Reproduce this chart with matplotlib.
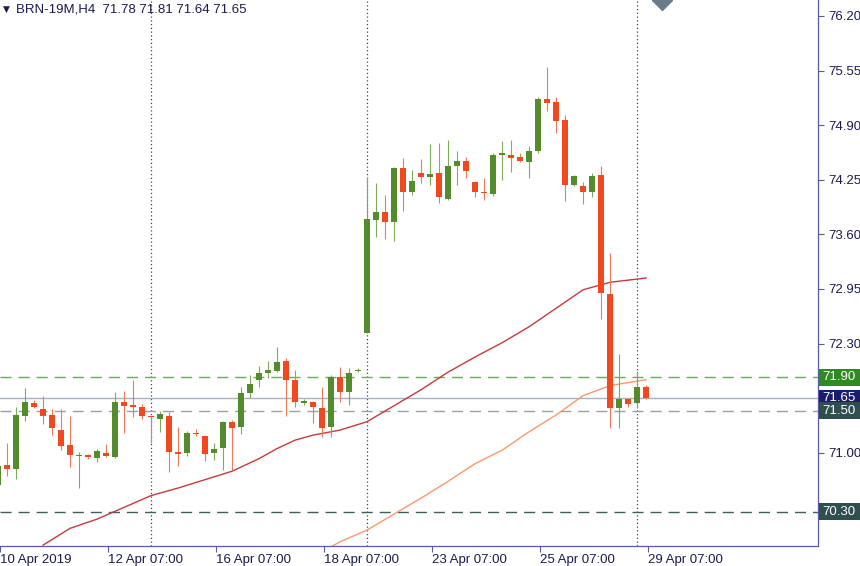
import numpy as np
import matplotlib.pyplot as plt
from matplotlib.patches import Rectangle

# BRN-19M, H4 candles
opens = [70.62, 70.85, 70.81, 71.44, 71.59, 71.52, 71.45, 71.27, 71.09, 70.96,
         70.97, 70.94, 71.00, 70.95, 71.60, 71.56, 71.55, 71.43, 71.40, 71.44,
         71.01, 71.00, 71.24, 71.20, 71.00, 71.06, 71.37, 71.31, 71.71, 71.87,
         71.95, 71.97, 72.09, 71.87, 71.59, 71.60, 71.53, 71.31, 71.90, 71.72,
         71.97, 72.43, 73.77, 73.87, 73.75, 74.39, 74.10, 74.33, 74.28, 74.33,
         74.02, 74.41, 74.47, 74.22, 74.10, 74.08, 74.55, 74.55, 74.52, 74.46,
         74.59, 75.21, 75.18, 74.96, 74.19, 74.18, 74.10, 74.31, 72.89, 71.53,
         71.64, 71.59, 71.78]
highs = [70.89, 71.12, 71.55, 71.77, 71.63, 71.68, 71.52, 71.52, 71.44, 71.01,
         70.99, 71.05, 71.10, 71.72, 71.74, 71.87, 71.58, 71.44, 71.50, 71.49,
         71.31, 71.26, 71.28, 71.21, 71.12, 71.38, 71.39, 71.78, 71.93, 72.03,
         72.09, 72.26, 72.13, 71.99, 71.64, 71.62, 71.78, 71.93, 72.02, 72.01,
         72.01, 74.28, 74.21, 74.07, 74.40, 74.51, 74.37, 74.50, 74.68, 74.69,
         74.72, 74.59, 74.52, 74.24, 74.27, 74.57, 74.71, 74.72, 74.57, 74.65,
         75.24, 75.59, 75.24, 75.02, 74.31, 74.22, 74.33, 74.41, 73.38, 72.18,
         71.65, 71.97, 71.81]
lows = [70.58, 70.72, 70.69, 71.38, 71.53, 71.34, 71.21, 71.03, 70.83, 70.58,
        70.93, 70.89, 70.95, 70.94, 71.24, 71.43, 71.40, 71.12, 71.25, 70.77,
        70.84, 70.96, 71.20, 70.90, 70.91, 70.80, 70.80, 71.22, 71.65, 71.78,
        71.89, 71.96, 71.44, 71.55, 71.57, 71.35, 71.19, 71.19, 71.60, 71.57,
        71.96, 72.42, 73.57, 73.55, 73.52, 73.88, 74.07, 74.21, 74.19, 73.97,
        74.01, 74.19, 74.27, 74.05, 74.01, 74.06, 74.25, 74.34, 74.46, 74.27,
        74.57, 75.07, 74.81, 74.00, 74.18, 73.96, 74.05, 72.59, 71.30, 71.30,
        71.55, 71.53, 71.64]
closes = [70.84, 70.81, 71.45, 71.60, 71.55, 71.44, 71.30, 71.08, 70.97, 70.96,
          70.95, 71.02, 70.96, 71.60, 71.56, 71.55, 71.44, 71.42, 71.46, 71.01,
          70.99, 71.24, 71.22, 70.99, 71.05, 71.37, 71.30, 71.71, 71.82, 71.95,
          71.99, 72.08, 71.87, 71.60, 71.62, 71.55, 71.30, 71.90, 71.72, 71.95,
          71.97, 73.78, 73.87, 73.75, 74.39, 74.10, 74.24, 74.28, 74.32, 74.05,
          74.41, 74.47, 74.35, 74.10, 74.09, 74.55, 74.56, 74.51, 74.47, 74.59,
          75.21, 75.16, 74.95, 74.19, 74.30, 74.10, 74.30, 72.90, 71.53, 71.64,
          71.58, 71.78, 71.65]

# moving averages, read at some bars
ma_red_idx = [5, 8, 11, 14, 17, 20, 23, 26, 29, 31, 33, 35, 38, 41, 44, 47,
              50, 53, 56, 59, 62, 65, 68, 72]
ma_red = [69.90, 70.10, 70.21, 70.35, 70.49, 70.58, 70.68, 70.78, 70.93, 71.05,
          71.15, 71.21, 71.27, 71.37, 71.56, 71.75, 71.96, 72.14, 72.31, 72.50,
          72.72, 72.94, 73.03, 73.08]
ma_orange_idx = [37, 38, 41, 44, 47, 50, 53, 56, 59, 62, 65, 68, 72]
ma_orange = [69.88, 69.94, 70.08, 70.27, 70.46, 70.66, 70.87, 71.03, 71.25,
             71.45, 71.68, 71.80, 71.87]

tick_idx = [0, 12, 24, 36, 48, 60, 72]
tick_labels = ['10 Apr 2019', '12 Apr 07:00', '16 Apr 07:00', '18 Apr 07:00',
               '23 Apr 07:00', '25 Apr 07:00', '29 Apr 07:00']
separators = [17, 41, 71]
price_ticks = [76.20, 75.55, 74.90, 74.25, 73.60, 72.95, 72.30, 71.00, 70.35]

levels = [71.90, 71.65, 71.50, 70.30]
level_colors = ['#2f8a22', '#1c1c6c', '#2f4f4f', '#2f4f4f']
level_lines = ['#6aaa60', '#a8b0c4', '#98a2a2', '#3f5f5f']
level_styles = [(0, (8, 5)), '-', (0, (8, 5)), (0, (8, 5))]

plt.rcParams['font.family'] = ['Liberation Sans', 'DejaVu Sans']
txt = '#1a1a50'
axis_col = '#5a5aa0'
up_col, dn_col = '#548c2d', '#f2481f'
up_wick, dn_wick = '#7dab5a', '#f2785a'

fig = plt.figure(figsize=(8.6, 5.66), dpi=100)
ax = fig.add_axes([0, 20 / 566, 818 / 860, 546 / 566])

x = np.arange(len(opens))
o = np.array(opens); h = np.array(highs); l = np.array(lows); c = np.array(closes)
up = c >= o

ax.vlines(x, l, h, colors=np.where(up, up_wick, dn_wick), linewidth=0.8, zorder=3)
body_h = np.maximum(np.abs(c - o), 0.013)
ax.bar(x, body_h, bottom=np.minimum(o, c), width=0.66,
       color=np.where(up, up_col, dn_col), linewidth=0, zorder=4)

ax.plot(ma_red_idx, ma_red, color='#c73a3c', linewidth=1.0, zorder=2)
ax.plot(ma_orange_idx, ma_orange, color='#f89a6c', linewidth=1.0, zorder=2)

for s in separators:
    ax.axvline(s, color='#3c3c80', linewidth=0.9, linestyle=(0, (1, 2)), zorder=1)

ytr = ax.get_yaxis_transform()
for lv, bc, lc, ls in zip(levels, level_colors, level_lines, level_styles):
    ax.axhline(lv, color=lc, linewidth=1.0, linestyle=ls, zorder=1)
    ax.add_patch(Rectangle((1.001, lv - 0.1), 0.052, 0.2, transform=ytr,
                           facecolor=bc, edgecolor='none', clip_on=False, zorder=9))
    ax.text(1.005, lv, f'{lv:.2f}', transform=ytr, color='white', fontsize=9.5,
            va='center', ha='left', zorder=10, clip_on=False)

ax.set_xlim(0.22, 91.1)
ax.set_ylim(69.89, 76.39)

ax.yaxis.tick_right()
ax.set_yticks(price_ticks)
ax.set_yticklabels([f'{p:.2f}' for p in price_ticks])
ax.set_xticks(np.array(tick_idx) + 0.25)
ax.set_xticklabels(tick_labels)
for lab in ax.get_xticklabels():
    lab.set_ha('left')
ax.tick_params(axis='both', colors=axis_col, labelcolor=txt, labelsize=9.5,
               length=4, width=0.8, direction='out')
ax.tick_params(axis='x', pad=2)

for side in ['top', 'left']:
    ax.spines[side].set_visible(False)
for side in ['right', 'bottom']:
    ax.spines[side].set_color(axis_col)
    ax.spines[side].set_linewidth(0.9)

# chart shift marker
ax.plot([73.8], [76.39], marker='D', markersize=10, color='#6b7b8b', zorder=5)

fig.text(3 / 860, 1 - 9 / 566, '\u25BC', fontsize=6.5, color=txt, va='center',
         family=['DejaVu Sans'])
fig.text(16 / 860, 1 - 9 / 566, 'BRN-19M,H4  71.78 71.81 71.64 71.65',
         fontsize=9.5, color=txt, va='center')

fig.savefig('out.png', dpi=100)
